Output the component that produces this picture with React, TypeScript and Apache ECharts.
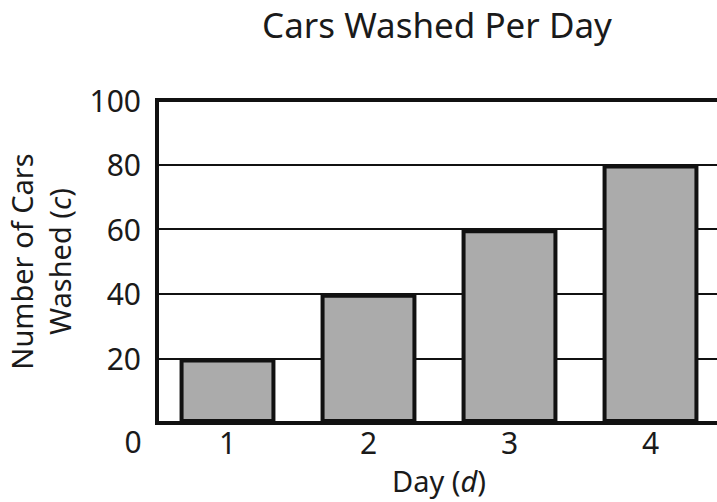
import React, { useEffect, useRef } from "react";
import * as echarts from "echarts";

const categories = ["1", "2", "3", "4"];
const carsWashed = [20, 40, 60, 80];
const yTicks = [0, 20, 40, 60, 80, 100];

const FONT = "Noto Sans";
const INK = "#1a1a1a";

export default function App() {
  const ref = useRef<HTMLDivElement>(null);
  useEffect(() => {
    if (!ref.current) return;
    const chart = echarts.init(ref.current, null, { renderer: "svg" });
    chart.setOption({
      animation: false,
      backgroundColor: "#ffffff",
      textStyle: { fontFamily: FONT },
      title: {
        text: "Cars Washed Per Day",
        left: 432,
        top: 2,
        textAlign: "center",
        textStyle: { fontFamily: FONT, fontSize: 35, fontWeight: "normal", color: INK },
      },
      grid: {
        left: 157,
        top: 100,
        width: 564,
        height: 323,
        show: true,
        borderColor: "#111",
        borderWidth: 4,
        containLabel: false,
        outerBoundsMode: "none",
      },
      xAxis: {
        type: "category",
        data: categories,
        name: "Day ({i|d})",
        nameLocation: "middle",
        nameGap: 43,
        nameTextStyle: {
          fontFamily: FONT,
          fontSize: 29,
          color: INK,
          rich: { i: { fontFamily: FONT, fontSize: 29, fontStyle: "italic", color: INK } },
        },
        axisLine: { show: true, lineStyle: { color: "#111", width: 4 } },
        axisTick: { show: false },
        axisLabel: { fontFamily: FONT, fontSize: 30, color: INK, margin: 4 },
      },
      yAxis: {
        type: "value",
        min: yTicks[0],
        max: yTicks[yTicks.length - 1],
        interval: 20,
        name: "Number of Cars\nWashed ({i|c})",
        nameLocation: "middle",
        nameGap: 76,
        nameRotate: 90,
        nameTextStyle: {
          fontFamily: FONT,
          fontSize: 29,
          color: INK,
          lineHeight: 38,
          rich: { i: { fontFamily: FONT, fontSize: 29, fontStyle: "italic", color: INK, lineHeight: 38 } },
        },
        axisLine: { show: true, lineStyle: { color: "#111", width: 4 } },
        axisTick: { show: false },
        axisLabel: {
          fontFamily: FONT,
          fontSize: 30,
          color: INK,
          margin: 16,
          formatter: (v: number) => (v === 0 ? "" : String(v)),
        },
        splitLine: { show: true, lineStyle: { color: "#111", width: 2 } },
      },
      graphic: [
        {
          type: "text",
          x: 133,
          y: 441,
          style: {
            text: String(yTicks[0]),
            fontFamily: FONT,
            fontSize: 30,
            fill: INK,
            align: "center",
            verticalAlign: "middle",
          },
        },
      ],
      series: [
        {
          type: "bar",
          data: carsWashed,
          barCategoryGap: "32%",
          itemStyle: { color: "#ababab", borderColor: "#111", borderWidth: 4 },
        },
      ],
    });
    return () => chart.dispose();
  }, []);
  return (
    <div
      ref={ref}
      style={{ position: "fixed", left: 0, top: 0, width: 717, height: 502, overflow: "hidden" }}
    />
  );
}
